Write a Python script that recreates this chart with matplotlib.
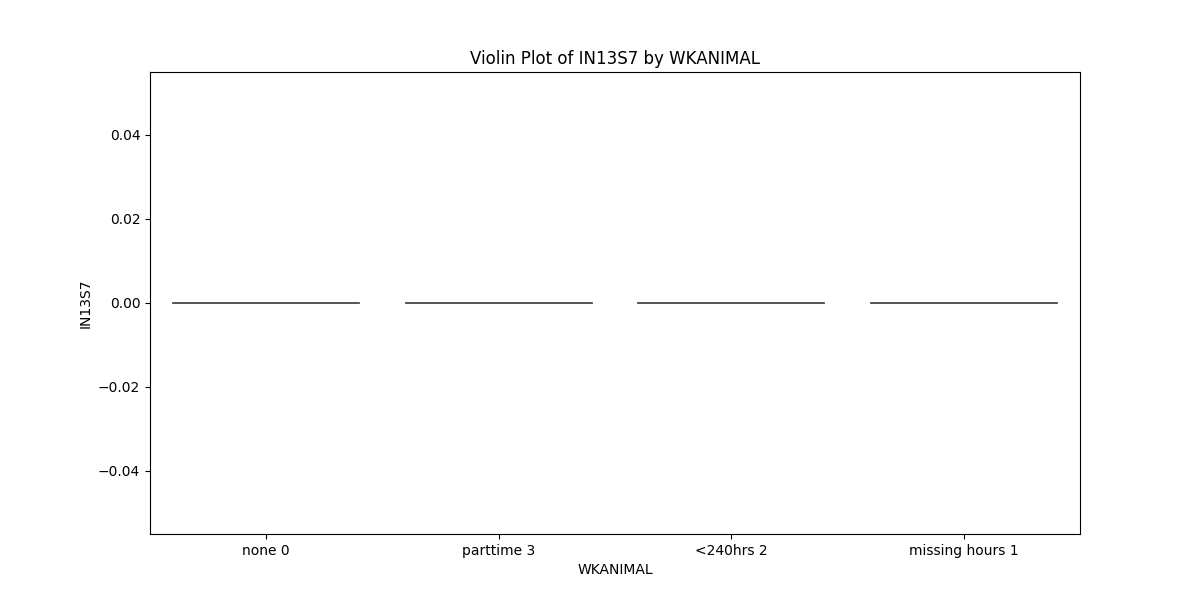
import matplotlib
matplotlib.use("Agg")
import matplotlib.pyplot as plt
import seaborn as sns
import pandas as pd

# categories on the x axis and the IN13S7 values seen in each (all zero)
categories = ["none 0", "parttime 3", "<240hrs 2", "missing hours 1"]
none_vals = [0.0, 0.0, 0.0]
parttime_vals = [0.0, 0.0, 0.0]
lt240_vals = [0.0, 0.0, 0.0]
missing_vals = [0.0, 0.0, 0.0]

df = pd.DataFrame({
    "WKANIMAL": [categories[0]] * len(none_vals) + [categories[1]] * len(parttime_vals)
                + [categories[2]] * len(lt240_vals) + [categories[3]] * len(missing_vals),
    "IN13S7": none_vals + parttime_vals + lt240_vals + missing_vals,
})

fig, ax = plt.subplots(figsize=(12, 6), dpi=100)
sns.violinplot(data=df, x="WKANIMAL", y="IN13S7", order=categories, ax=ax)
ax.set_title("Violin Plot of IN13S7 by WKANIMAL")
ax.set_ylim(-0.055, 0.055)
fig.savefig("out.png")
